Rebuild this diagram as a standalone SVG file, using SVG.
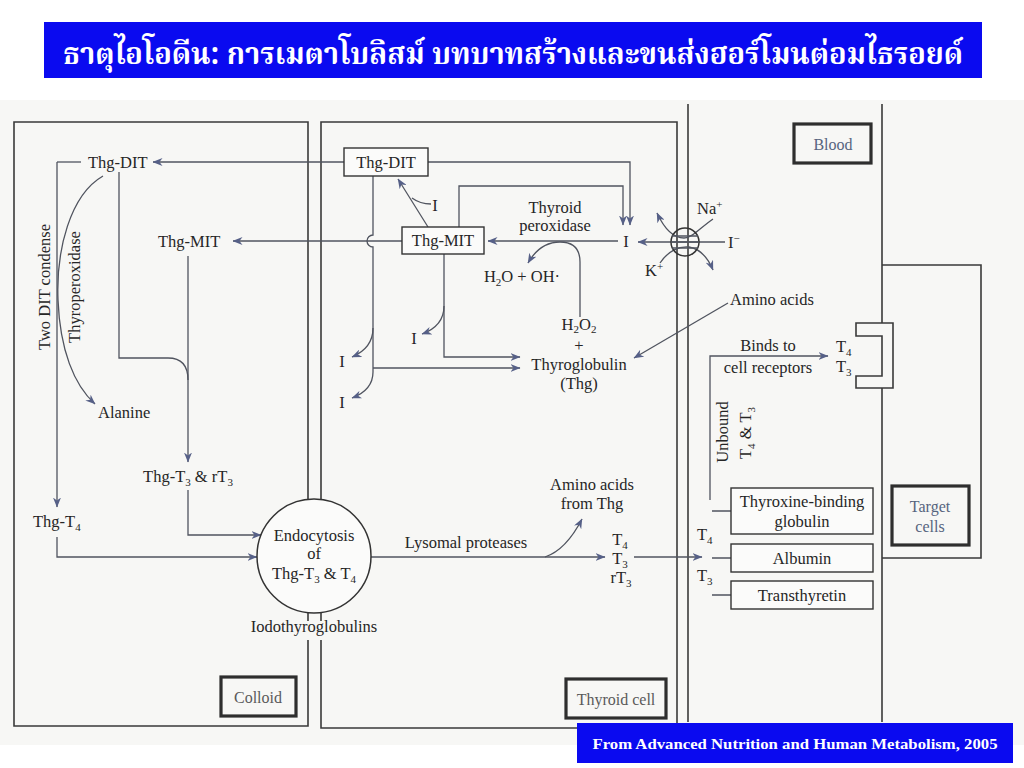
<svg xmlns="http://www.w3.org/2000/svg" width="1024" height="768" viewBox="0 0 1024 768">
<defs>
<style>
.t{font-family:"Liberation Serif","Times New Roman",serif;font-size:16.5px;fill:#262626}
.m{text-anchor:middle}
.lab{font-family:"Liberation Serif","Times New Roman",serif;font-size:16px;fill:#5a5a5a;text-anchor:middle}
.labb{font-family:"Liberation Serif","Times New Roman",serif;font-size:16px;fill:#56647e;text-anchor:middle}
.wall{fill:none;stroke:#3a3a3a;stroke-width:1.6}
.ln{fill:none;stroke:#50545f;stroke-width:1.3}
.ar{fill:none;stroke:#50545f;stroke-width:1.3;marker-end:url(#ah)}
.box{fill:#fbfbfa;stroke:#333;stroke-width:1.4}
.tbox{fill:none;stroke:#2e2e2e;stroke-width:3.2}
</style>
<marker id="ah" viewBox="0 0 10 8" refX="9.5" refY="4" markerWidth="10" markerHeight="8" markerUnits="userSpaceOnUse" orient="auto">
<path d="M0,0 L10,4 L0,8 L3,4 z" fill="#566087"/>
</marker>
</defs>
<rect x="0" y="0" width="1024" height="768" fill="#ffffff"/>
<rect x="0" y="100" width="1024" height="645" fill="#f7f7f5"/>

<g id="title">
<rect x="44" y="22" width="938" height="56" fill="#0a0af0"/>
<text x="513" y="64" text-anchor="middle" textLength="900" lengthAdjust="spacingAndGlyphs" font-family="'Noto Serif Thai','Noto Sans Thai Looped','Noto Sans Thai','Loma','Garuda','Noto Sans','DejaVu Sans',sans-serif" font-size="30" font-weight="bold" fill="#ffffff">ธาตุไอโอดีน: การเมตาโบลิสม์ บทบาทสร้างและขนส่งฮอร์โมนต่อมไธรอยด์</text>
</g>

<g id="compartments">
<path class="wall" d="M308,499 V122 H14 V726 H308 V640"/>
<path class="wall" d="M308,613 V621"/>
<path class="wall" d="M321,499 V122 H677 V728 H321 V640"/>
<path class="wall" d="M321,613 V621"/>
<path class="wall" d="M688,104 V722"/>
<path class="wall" d="M882,104 V323 M882,388 V722"/>
<path class="wall" d="M882,265 H981 V558 H882"/>
</g>

<g id="receptor">
<path class="wall" d="M856,323 H893 V388 H856 V376 H882 V336 H856 Z" fill="#fbfbfa"/>
</g>

<g id="label-colloid"><rect class="tbox" x="221" y="677" width="75" height="39"/><text class="lab" x="258" y="703">Colloid</text></g>
<g id="label-thyroid-cell"><rect class="tbox" x="566" y="679" width="100" height="39"/><text class="lab" x="616" y="705">Thyroid cell</text></g>
<g id="label-blood"><rect class="tbox" x="794" y="124" width="77" height="39"/><text class="labb" x="833" y="150">Blood</text></g>
<g id="label-target"><rect class="tbox" x="892" y="486" width="77" height="59"/><text class="labb" x="930" y="512">Target</text><text class="labb" x="930" y="532">cells</text></g>

<g id="connectors">
<path class="ln" d="M81,162 H57"/>
<path class="ar" d="M57,162 V507"/>
<path class="ar" d="M57,537 V557 H257"/>
<path class="ar" d="M103,176 C70,195 56,250 58,300 C60,350 74,385 95,404"/>
<path class="ln" d="M119,172 V358 H168 Q188,358 188,380"/>
<path class="ar" d="M188,256 V462"/>
<path class="ar" d="M188,490 V535 H261"/>
<path class="ar" d="M371,557 H605"/>
<path class="ar" d="M545,557 Q566,550 582,519"/>
<path class="ar" d="M634,557 H702"/>
<path class="ar" d="M344,162 H153"/>
<path class="ar" d="M428,162 H630 V225"/>
<path class="ar" d="M459,227 V186 H623 V225"/>
<path class="ar" d="M402,241 H233"/>
<path class="ar" d="M618,241 H488"/>
<path class="ar" d="M725,242 H638"/>
<path class="ar" d="M580,317 V262 Q580,242 560,242 Q540,242 528,263"/>
<path class="ar" d="M428,227 L398,179"/>
<path class="ln" d="M431,204 Q420,204 412,198"/>
<path class="ln" d="M373,176 V235 A6,6 0 0 0 373,247 V372"/>
<path class="ar" d="M373,372 Q373,390 352,398"/>
<path class="ar" d="M373,328 Q373,348 352,357"/>
<path class="ar" d="M373,368 H520"/>
<path class="ar" d="M444,254 V357 H520"/>
<path class="ar" d="M444,306 Q444,326 422,334"/>
<path class="ar" d="M728,303 L634,358"/>
<path class="ar" d="M713,219 C700,228 692,238 684,238 C673,238 664,228 657,213"/>
<path class="ar" d="M660,263 C668,251 679,246 689,247 C700,249 708,258 713,270"/>
<path class="ar" d="M710,500 V356 H828"/>
<path class="ln" d="M712,511 H731 M712,558 H731 M712,595 H731"/>
</g>

<g id="pump">
<circle cx="685" cy="242" r="14" fill="none" stroke="#333" stroke-width="1.5"/>
<path class="ln" d="M672,236 H698 M671,242 H699 M672,248 H698" stroke="#333"/>
</g>

<g id="node-endocytosis">
<circle cx="314" cy="556" r="57" fill="#fbfbfa" stroke="#333" stroke-width="1.5"/>
<text class="t m" x="314" y="541">Endocytosis</text>
<text class="t m" x="314" y="559">of</text>
<text class="t m" x="314" y="579">Thg-T<tspan font-size="11" dy="4">3</tspan><tspan dy="-4"> &amp; T</tspan><tspan font-size="11" dy="4">4</tspan></text>
</g>
<g id="node-iodothyroglobulins"><text class="t m" x="314" y="632">Iodothyroglobulins</text></g>

<g id="node-colloid-thg-dit"><text class="t" x="88" y="168">Thg-DIT</text></g>
<g id="node-colloid-thg-mit"><text class="t" x="158" y="247">Thg-MIT</text></g>
<g id="node-alanine"><text class="t" x="98" y="418">Alanine</text></g>
<g id="node-two-dit"><text class="t m" transform="translate(45,287) rotate(-90)" x="0" y="5">Two DIT condense</text></g>
<g id="node-thyroperoxidase"><text class="t m" transform="translate(75,287) rotate(-90)" x="0" y="5">Thyroperoxidase</text></g>
<g id="node-thg-t3"><text class="t m" x="188" y="482">Thg-T<tspan font-size="11" dy="4">3</tspan><tspan dy="-4"> &amp; rT</tspan><tspan font-size="11" dy="4">3</tspan></text></g>
<g id="node-thg-t4"><text class="t" x="33" y="527">Thg-T<tspan font-size="11" dy="4">4</tspan></text></g>

<g id="node-thyroid-thg-dit"><rect class="box" x="344" y="148" width="84" height="28"/><text class="t m" x="386" y="168">Thg-DIT</text></g>
<g id="node-thyroid-thg-mit"><rect class="box" x="402" y="227" width="82" height="27"/><text class="t m" x="443" y="246">Thg-MIT</text></g>
<g id="node-i-1"><text class="t m" x="435" y="211">I</text></g>
<g id="node-i-2"><text class="t m" x="414" y="344">I</text></g>
<g id="node-i-3"><text class="t m" x="342" y="367">I</text></g>
<g id="node-i-4"><text class="t m" x="342" y="408">I</text></g>
<g id="node-i-5"><text class="t m" x="626" y="247">I</text></g>
<g id="node-peroxidase"><text class="t m" x="555" y="213">Thyroid</text><text class="t m" x="555" y="231">peroxidase</text></g>
<g id="node-h2o"><text class="t m" x="522" y="282">H<tspan font-size="11" dy="4">2</tspan><tspan dy="-4">O + OH·</tspan></text></g>
<g id="node-thyroglobulin">
<text class="t m" x="579" y="330">H<tspan font-size="11" dy="3">2</tspan><tspan dy="-3">O</tspan><tspan font-size="11" dy="3">2</tspan></text>
<text class="t m" x="579" y="351">+</text>
<text class="t m" x="579" y="370">Thyroglobulin</text>
<text class="t m" x="579" y="389">(Thg)</text>
</g>
<g id="node-na"><text class="t" x="697" y="214">Na<tspan font-size="11" dy="-6">+</tspan></text></g>
<g id="node-k"><text class="t" x="645" y="276">K<tspan font-size="11" dy="-6">+</tspan></text></g>
<g id="node-iminus"><text class="t" x="728" y="248">I<tspan font-size="11" dy="-6">−</tspan></text></g>
<g id="node-amino"><text class="t" x="730" y="305">Amino acids</text></g>
<g id="node-lysosomal"><text class="t m" x="466" y="548">Lysomal proteases</text></g>
<g id="node-amino-thg"><text class="t m" x="592" y="490">Amino acids</text><text class="t m" x="592" y="509">from Thg</text></g>
<g id="node-t-products">
<text class="t m" x="620" y="545">T<tspan font-size="11" dy="4">4</tspan></text>
<text class="t m" x="620" y="564">T<tspan font-size="11" dy="4">3</tspan></text>
<text class="t m" x="621" y="583">rT<tspan font-size="11" dy="4">3</tspan></text>
</g>
<g id="node-blood-t"><text class="t" x="697" y="540">T<tspan font-size="11" dy="4">4</tspan></text><text class="t" x="697" y="581">T<tspan font-size="11" dy="4">3</tspan></text></g>
<g id="node-unbound">
<text class="t m" transform="translate(723,432) rotate(-90)" x="0" y="5">Unbound</text>
<text class="t m" transform="translate(746,433) rotate(-90)" x="0" y="5">T<tspan font-size="11" dy="4">4</tspan><tspan dy="-4"> &amp; T</tspan><tspan font-size="11" dy="4">3</tspan></text>
</g>
<g id="node-binds"><text class="t m" x="768" y="351">Binds to</text><text class="t m" x="768" y="373">cell receptors</text></g>
<g id="node-receptor-t"><text class="t" x="836" y="352">T<tspan font-size="11" dy="4">4</tspan></text><text class="t" x="836" y="372">T<tspan font-size="11" dy="4">3</tspan></text></g>
<g id="node-tbg"><rect class="box" x="731" y="488" width="142" height="46"/><text class="t m" x="802" y="507">Thyroxine-binding</text><text class="t m" x="802" y="527">globulin</text></g>
<g id="node-albumin"><rect class="box" x="731" y="544" width="142" height="28"/><text class="t m" x="802" y="564">Albumin</text></g>
<g id="node-transthyretin"><rect class="box" x="731" y="581" width="142" height="28"/><text class="t m" x="802" y="601">Transthyretin</text></g>

<g id="credit">
<rect x="577" y="723" width="436" height="40" fill="#0a0af0"/>
<text x="795" y="749" text-anchor="middle" textLength="405" lengthAdjust="spacingAndGlyphs" font-family="'Liberation Serif','Times New Roman',serif" font-size="15" font-weight="bold" fill="#ffffff">From Advanced Nutrition and Human Metabolism, 2005</text>
</g>
</svg>
